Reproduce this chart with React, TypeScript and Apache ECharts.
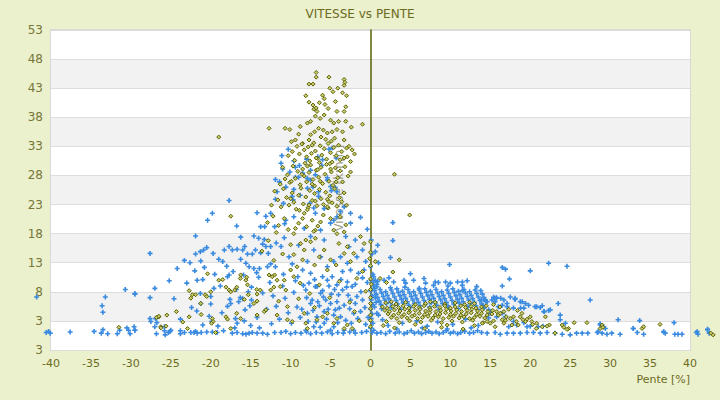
import React, { useEffect, useRef } from "react";
import * as echarts from "echarts";

const yTickLabels = ["3", "3", "8", "13", "18", "23", "28", "33", "38", "43", "48", "53"];
const yAxisTitle = "Vitesse [km/h]";
const yAxisTitleAnchor = [-4, 25.8];

const blueFloor = [
  [-40.6,1.0],[-40.3,1.2],[-40.1,0.9],[-37.6,1.1],[-34.6,1.2],[-33.7,0.9],[-33.5,1.5],[-32.9,0.8],[-31.7,0.8],[-30.3,1.4],[-30.1,0.8],[-29.5,1.4],
  [-26.8,0.8],[-25.8,1.3],[-25.7,0.6],[-25.3,1.0],[-25.1,1.2],[-23.8,0.8],[-23.8,1.3],[-23.3,1.0],[-22.5,1.0],[-22.1,1.0],[-21.9,1.2],[-21.7,0.9],
  [-21.2,1.0],[-20.5,1.1],[-19.8,1.1],[-19.2,1.0],[-17.3,0.9],[-16.7,1.0],[-16.0,0.8],[-15.6,0.7],[-15.2,0.9],[-14.8,1.0],[-14.2,0.9],[-13.5,0.9],
  [-12.9,0.7],[-12.0,1.0],[-11.2,1.0],[-10.6,1.2],[-10.0,0.8],[-9.4,1.0],[-8.7,0.9],[-8.0,1.1],[-7.5,0.8],[-6.8,1.0],[-6.1,0.9],[-5.4,1.1],
  [-4.8,0.8],[-4.1,1.0],[-3.4,0.9],[-2.6,1.1],[-1.9,0.9],[-1.1,1.0],[-0.5,1.2],[0.4,1.4],[0.8,0.9],
  [1.3,1.0],[1.9,0.8],[2.4,1.2],[3.1,0.9],[3.6,1.1],[4.2,0.8],[4.6,1.0],[5.1,1.3],[5.5,0.9],[6.0,1.1],[6.4,0.8],[6.9,1.0],[7.3,1.2],[7.7,0.9],
  [8.2,1.1],[8.6,0.8],[9.1,1.0],[9.5,1.3],[10.0,0.9],[10.4,1.1],[10.9,0.8],[11.3,1.0],[11.8,1.2],[12.4,0.9],[12.9,1.0],[13.4,1.3],
  [13.9,1.0],[14.6,0.9],[15.6,1.0],[16.25,0.7],[17.1,0.9],[17.9,0.9],[18.75,0.9],[19.6,1.0],[20.4,1.0],[21.25,0.9],[22.1,1.0],[23.1,0.9],
  [24.0,0.7],[25.0,0.6],[25.8,0.9],[26.5,0.9],[27.2,0.9],[28.4,1.0],[29.0,0.9],[29.6,0.7],[30.2,0.9],[31.25,0.7],[32.9,1.7],[33.4,1.0],
  [34.2,0.7],[36.7,1.1],[36.9,0.9],[38.1,0.7],[38.5,0.7],[39.0,0.7],[40.8,1.0],[41.0,0.7],[42.2,1.5],[42.4,0.9]
];

const blueLeft = [
  [-17.7,23.7],[-19.8,21.5],[-20.4,20.3],[-21.9,17.6],[-27.6,14.6],[-23.3,13.4],[-24.2,12.0],[-22.6,13.0],[-21.25,13.3],[-21.9,14.5],
  [-21.3,14.9],[-20.9,15.2],[-20.5,15.6],[-19.7,14.6],[-19.0,13.6],[-18.5,13.2],[-18.3,15.2],[-17.7,15.8],[-17.3,15.2],[-16.7,15.3],
  [-16.0,15.2],[-15.75,15.8],[-15.4,14.5],[-16.25,17.4],[-16.75,19.3],[-16.25,13.6],[-15.6,12.9],[-15.2,12.3],[-17.2,11.5],[-17.7,10.9],
  [-17.9,10.6],[-21.7,10.0],[-21.0,10.1],[-27.0,8.6],[-29.5,7.6],[-27.6,7.0],[-21.3,7.7],[-20.0,7.2],[-19.6,8.6],[-17.6,6.7],[-16.3,7.0],
  [-16.0,6.8],[-21.25,6.0],[-20.0,5.9],[-21.75,4.7],[-17.9,5.5],[-17.5,6.0],[-15.1,5.6],[-20.2,3.8],[-19.9,2.9],[-16.9,3.4],[-16.7,2.6],
  [-19.1,2.1],[-18.4,1.3],[-26.9,3.4],[-26.75,2.7],[-29.5,1.4],[-41.8,7.1],[-30.7,8.4],[-29.5,7.7],[-33.2,7.1],[-33.6,5.6],[-33.5,4.5],
  [-27.6,3.4],[-27.5,2.9],[-27.0,2.0],[-25.8,2.0],[-25.0,1.4],[-29.6,2.0],[-30.5,1.8],[-31.4,1.4],
  [-23.0,9.5],[-22.0,11.6],[-20.8,12.2],[-19.5,11.0],[-18.8,9.0],[-18.0,12.4],[-16.8,8.4],[-15.9,10.9],[-15.3,8.0],[-22.4,5.3],[-21.0,2.3],
  [-18.6,4.4],[-17.0,1.8],[-15.8,3.0],[-14.9,6.6],[-24.6,6.8],[-23.8,3.3],[-25.2,9.9]
];

const blueCenter = [
  [-7.5,11.2],[-6.9,8.9],[-6.25,7.75],[-5.4,10.0],[-4.8,10.6],[-4.2,9.2],[-3.5,8.3],[-2.9,9.7],[-2.3,8.9],[-1.5,11.2],[-0.8,11.75],[-8.1,8.3],
  [-7.3,6.6],[-5.6,6.6],[-5.0,6.0],[-4.2,6.3],[-3.3,5.7],[-2.5,6.6],[-1.9,6.0],[-1.0,6.6],[-1.25,4.6],[-2.1,4.3],[-3.75,3.7],[-4.6,4.0],
  [-5.8,4.6],[-6.7,3.7],[-7.9,4.3],[-8.1,1.4],[-7.1,2.0],[-5.8,2.6],[-5.0,1.4],[-4.6,2.0],[-3.3,1.4],[-2.1,1.4],[-6.7,8.9],[-7.5,6.0],
  [-2.5,11.75],[-3.5,11.5],[-6.0,10.6],[-8.5,11.75],
  [-12.6,9.6],[-12.2,7.3],[-11.8,5.5],[-11.4,3.3],[-11.0,9.0],[-10.7,6.9],[-10.3,4.4],[-9.9,2.6],[-9.6,7.9],[-9.2,5.4],[-8.8,3.6],[-13.0,5.0],
  [-12.4,2.5],[-10.9,11.0],[-9.4,9.9],[-13.5,7.8],[-14.2,3.6],[-14.9,8.8],[-15.7,4.9],[-14.0,10.5],[-16.5,6.3],[-15.0,2.2],[-13.9,1.8],
  [-8.6,5.0],[-8.0,7.0],[-7.7,9.5],[-7.2,4.8],[-6.8,2.8],[-6.4,5.6],[-6.0,8.2],[-5.5,3.3],[-5.2,9.0],[-4.9,7.6],[-4.4,4.9],[-4.0,7.5],
  [-3.7,10.1],[-3.1,3.1],[-2.8,7.4],[-2.4,2.6],[-1.9,9.3],[-1.6,3.4],[-1.2,8.0],[-0.7,5.3],[-0.6,2.4],[-0.4,9.6],[-3.9,5.2],[-5.9,7.1],
  [-7.0,10.1],[-8.4,9.1],[-1.0,10.4],[-2.6,5.1],[-4.5,8.4],[-6.3,1.9],[-3.0,8.8],[-1.7,7.2],[-5.3,5.0],[-7.8,2.9],[-9.1,10.6],[-0.3,3.6],
  [-6.6,6.3],[-4.1,2.7]
];

const blueUpper = [
  [-7.1,15.2],[-7.9,13.2],[-6.25,14.0],[-5.4,12.3],[-4.6,13.2],[-3.75,14.0],[-1.7,14.0],[-2.7,15.75],[-1.9,16.9],[-3.1,17.5],[-1.0,15.2],
  [-0.6,13.2],[-2.9,12.9],[-0.4,18.75],[-1.25,20.8],[-2.5,19.8],[-5.8,16.9],[-6.25,18.6],[-5.0,19.8],[-4.2,20.9],[-3.3,22.6],[-2.5,21.5],
  [-3.75,21.8],[-4.6,20.3],[-6.9,21.5],[-8.3,18.9],[-7.5,17.5],[-14.6,17.6],[-14.0,17.2],[-13.3,17.0],[-13.5,16.2],[-13.1,15.8],[-12.5,15.8],
  [-11.8,16.4],[-11.2,15.8],[-14.8,14.5],[-14.4,15.2],[-13.75,14.7],[-12.8,14.6],[-14.6,12.0],[-14.25,11.3],[-13.9,12.0],[-12.9,12.3],
  [-12.5,12.8],[-11.9,12.3],[-14.2,21.6],[-13.1,21.0],[-12.5,21.5],[-13.75,19.2],[-13.25,19.2],[-12.0,19.2],[-10.75,19.7],[-10.6,20.3],
  [-9.6,20.9],[-10.2,14.0],[-9.8,12.8],[-10.8,17.3],[-9.0,16.0],
  [-7.9,25.8],[-8.5,28.4],[-7.5,27.2],[-6.5,24.4],[-8.0,30.8],[-8.9,29.7],[-9.4,27.7],[-9.6,25.6],[-7.2,26.0],[-6.1,29.7],[-5.4,27.6],
  [-4.9,25.4],[-6.6,31.2],[-9.7,23.8],[-8.8,24.6],[-7.6,23.2],[-5.8,22.3],[-4.4,25.9],[-10.1,28.6],[-4.3,31.0],[-5.2,32.5],
  [-10.3,32.5],[-11.1,31.4],[-11.2,30.1],[-11.0,29.1],[-11.9,27.3],[-11.4,26.9],[-10.6,26.0],[-11.7,25.2],[-11.9,23.9],[-10.9,23.2],
  [-9.6,30.5],[-9.4,29.4],[-9.0,27.7],[-9.8,24.4],[-7.9,27.5],[-7.5,28.9],[-6.9,28.1],[-6.5,25.2],[-6.0,30.7],[-4.8,32.7],[-5.4,27.2],
  [-5.0,26.1],[-4.2,25.2],[-7.1,22.4]
];

const blueAxis = [
  [0.1,16.9],[0.2,14.5],[0.0,12.3],[0.3,11.0],[0.1,10.0],[0.4,9.0],[0.0,8.2],[0.2,7.3],[0.1,6.6],[0.3,5.8],[0.0,5.0],[0.2,4.2],[0.1,3.4],
  [0.3,2.6],[0.0,1.8],[0.2,1.0],[0.5,8.6],[0.6,7.0],[0.7,6.2],[0.5,5.4],[0.8,4.3],[0.9,16.0],[0.6,14.9],[1.0,13.0],[0.4,10.6],[0.9,9.8]
];

const blueBlob = [
  [0.8,8.9],[2.5,8.7],[4.3,8.8],[6.1,8.6],[7.9,9.1],[9.7,9.0],[11.5,9.1],[13.3,8.9],
  [0.5,8.2],[1.2,8.4],[1.9,8.0],[2.6,8.3],[3.3,8.5],[4.0,8.1],[4.7,8.4],[5.4,8.0],[6.1,8.3],[6.8,8.5],[7.5,8.1],[8.2,8.4],[8.9,8.0],
  [9.6,8.3],[10.3,8.5],[11.0,8.1],[11.7,8.4],[12.4,8.0],[13.1,8.3],[13.8,8.2],
  [0.7,7.6],[1.4,7.8],[2.1,7.4],[2.8,7.7],[3.5,7.9],[4.2,7.5],[4.9,7.8],[5.6,7.4],[6.3,7.7],[7.0,7.9],[7.7,7.5],[8.4,7.8],[9.1,7.4],
  [9.8,7.7],[10.5,7.9],[11.2,7.5],[11.9,7.8],[12.6,7.4],[13.3,7.7],[14.0,7.6],
  [0.9,7.0],[1.6,7.2],[2.3,6.8],[3.0,7.1],[3.7,7.3],[4.4,6.9],[5.1,7.2],[5.8,6.8],[6.5,7.1],[7.2,7.3],[7.9,6.9],[8.6,7.2],[9.3,6.8],
  [10.0,7.1],[10.7,7.3],[11.4,6.9],[12.1,7.2],[12.8,6.8],[13.5,7.1],[14.2,7.0],
  [1.1,6.4],[1.8,6.6],[2.5,6.2],[3.2,6.5],[3.9,6.7],[4.6,6.3],[5.3,6.6],[6.0,6.2],[6.7,6.5],[7.4,6.7],[8.1,6.3],[8.8,6.6],[9.5,6.2],
  [10.2,6.5],[10.9,6.7],[11.6,6.3],[12.3,6.6],[13.0,6.2],[13.7,6.5],[14.4,6.4],
  [1.3,5.8],[2.0,6.0],[2.7,5.6],[3.4,5.9],[4.1,6.1],[4.8,5.7],[5.5,6.0],[6.2,5.6],[6.9,5.9],[7.6,6.1],[8.3,5.7],[9.0,6.0],[9.7,5.6],
  [10.4,5.9],[11.1,6.1],[11.8,5.7],[12.5,6.0],[13.2,5.6],[13.9,5.9],
  [1.4,5.1],[2.6,5.3],[3.8,5.0],[5.0,5.3],[6.2,5.1],[7.4,5.4],[8.6,5.0],[9.8,5.3],[11.0,5.1],[12.2,5.4],[13.4,5.0]
];

const blueRight = [
  [1.7,10.0],[2.3,10.4],[2.9,9.7],[4.2,10.0],[4.4,9.5],[5.0,11.1],[5.4,10.0],[6.7,10.3],[6.9,9.5],[8.1,9.7],[8.5,9.6],[9.4,9.7],[10.0,9.5],
  [10.9,9.7],[11.5,9.7],[12.1,9.9],[11.5,8.2],[0.8,9.3],[0.6,10.0],[0.4,9.7],[2.5,13.9],[2.8,19.9],[2.8,16.8],[9.9,12.7],
  [16.5,12.2],[16.9,11.9],[17.4,10.2],[16.5,9.0],[20.0,11.6],[22.3,12.9],[24.6,12.4],[27.5,6.6],[23.5,6.0],[23.75,4.0],[24.4,2.6],
  [29.2,2.0],[28.75,2.5],[21.75,4.6],[22.5,4.9],[20.8,5.45],[21.25,5.3],[21.5,5.6],[19.0,6.3],[19.4,6.0],[18.8,5.2],[18.1,6.7],[17.5,7.1],
  [16.7,6.6],[17.1,6.0],[16.3,6.9],[15.75,7.0],[15.5,6.9],[16.0,5.45],[16.5,4.3],[16.9,3.7],[17.9,2.9],[17.3,2.0],[18.3,2.3],[19.2,2.7],
  [19.6,2.0],[20.0,2.1],[21.0,2.0],[21.6,2.1],[14.4,6.6],[14.6,6.3],[13.9,6.6],[14.2,5.2],[14.8,4.9],[15.0,4.3],[15.8,3.7],
  [15.4,7.05],[15.8,6.9],[15.2,6.6],[15.6,6.3],[14.1,5.7],[14.1,5.2],[16.5,5.7],[17.1,5.45],[17.9,5.2],[18.1,6.9],[18.75,6.3],[19.2,5.2],
  [19.8,5.7],[20.6,5.45],[21.7,4.6],[22.3,4.8],[23.75,3.2],[31.0,3.2],[28.75,2.3],[28.5,1.15],[29.4,1.7],[32.9,1.7],[33.7,3.05],[38.0,2.7],
  [36.7,1.15],[40.9,1.15],[42.2,1.55],
  [1.5,3.2],[2.2,2.2],[4.0,2.6],[5.8,3.0],[7.1,2.1],[8.4,2.8],[10.3,2.4],[11.9,3.3],[13.5,2.2],[1.0,4.0],[14.8,3.5],[3.3,1.6],[6.5,1.8],
  [9.6,1.6],[12.6,1.8]
];

const oliveColumn = [
  [-6.8,45.7],[-5.2,44.9],[-6.8,44.9],[-7.7,43.7],[-7.2,43.7],[-5.1,43.0],[-4.1,43.0],[-4.7,42.4],[-3.3,44.5],[-3.2,44.0],[-3.3,43.5],
  [-3.5,42.2],[-3.0,41.7],[-8.1,41.7],[-6.0,41.8],[-5.8,41.2],[-5.7,40.2],[-7.7,40.6],[-7.2,40.1],[-7.1,39.4],[-6.8,39.6],[-6.7,39.0],
  [-4.2,39.0],[-3.3,39.0],[-3.1,39.8],[-1.0,36.8],[-12.7,36.1],[-19.0,34.6],[-10.7,36.1],[-10.1,35.9],[-9.0,35.1],[-7.9,37.0],[-7.5,37.3],
  [-6.9,38.2],[-6.3,37.8],[-5.8,38.4],[-5.0,37.5],[-4.6,37.0],[-4.0,37.3],[-3.1,37.3],[-9.4,34.1],[-8.5,33.5],[-7.7,34.1],[-7.5,35.0],
  [-7.0,35.5],[-6.5,36.1],[-5.9,35.8],[-5.4,35.3],[-4.8,35.5],[-4.2,35.9],[-3.5,35.5],[-3.3,34.1],[-6.2,34.6],[-5.6,34.2],[-4.5,34.4],
  [-8.8,36.4],[-2.4,36.3],[-6.4,40.5],[-4.4,40.7],[-5.3,39.5],
  [-9.2,33.0],[-8.3,32.4],[-8.0,31.2],[-2.7,33.0],[-2.3,32.4],[-2.9,31.2],[-2.5,30.4],[-9.8,32.1],[-9.5,30.6],[-8.9,31.7],[-8.6,33.4],
  [-7.8,32.9],[-7.4,31.8],[-7.1,33.6],[-6.9,32.2],[-6.6,30.9],[-6.3,33.1],[-6.1,31.5],[-5.8,32.6],[-5.5,30.8],[-5.3,33.5],[-5.0,31.9],
  [-4.8,30.3],[-4.6,32.8],[-4.3,31.4],[-4.0,33.2],[-3.8,30.7],[-3.6,32.1],[-3.3,31.0],[-3.0,32.7],[-7.6,30.5],[-8.2,30.1],[-6.4,30.2],
  [-5.1,30.0],[-9.9,33.8],[-10.3,31.4],[-2.0,31.7],[-4.9,33.9],[-6.8,31.0],[-7.3,33.2],
  [-11.0,29.4],[-10.4,28.1],[-10.1,26.8],[-9.7,29.6],[-9.4,27.5],[-9.1,28.7],[-8.8,26.4],[-8.5,29.1],[-8.3,27.9],[-8.0,26.9],[-7.7,28.5],
  [-7.5,29.8],[-7.2,27.3],[-7.0,26.2],[-6.8,28.9],[-6.5,27.7],[-6.2,29.4],[-6.0,26.6],[-5.7,28.2],[-5.5,29.9],[-5.2,27.0],[-4.9,28.6],
  [-4.7,26.3],[-4.4,29.3],[-4.1,27.6],[-3.8,28.8],[-3.5,26.9],[-3.2,29.5],[-2.8,27.9],[-2.5,28.6],[-9.9,27.0],[-8.6,28.2],[-7.3,26.5],
  [-6.3,27.0],[-5.0,29.1],[-4.3,26.9],[-10.7,27.4],[-11.3,26.5],[-7.9,29.6],[-6.6,29.0],
  [-12.0,25.3],[-11.6,23.8],[-11.2,22.6],[-10.9,25.7],[-10.5,24.2],[-10.2,22.9],[-9.8,25.0],[-9.6,23.4],[-9.3,22.2],[-9.0,24.6],[-8.7,25.8],
  [-8.4,23.1],[-8.1,24.3],[-7.8,22.5],[-7.6,25.4],[-7.3,23.7],[-7.0,24.9],[-6.7,22.8],[-6.4,25.6],[-6.2,24.0],[-5.9,23.0],[-5.6,25.1],
  [-5.3,22.4],[-5.1,24.5],[-4.8,23.3],[-4.5,25.7],[-4.2,22.7],[-3.9,24.2],[-3.6,23.5],[-3.3,25.0],[-8.9,22.0],[-6.9,23.6],[-5.4,23.9],
  [-10.0,24.0],[-12.4,22.9],[-3.0,22.9],
  [-17.5,21.0],[-9.6,18.0],[-9.4,18.9],[-9.0,19.8],[-8.5,20.6],[-8.3,21.5],[-7.9,22.1],[-7.7,22.9],[-7.3,20.3],[-6.9,18.6],[-6.25,20.0],
  [-5.9,21.2],[-5.4,22.6],[-5.2,23.5],[-5.0,20.6],[-4.6,18.6],[-4.2,18.0],[-3.3,18.3],[-5.8,15.2],[-12.2,21.0],[-11.5,19.4],[-10.8,20.6],
  [-10.3,18.7],[-11.8,18.2],[-6.6,19.3],[-3.8,20.9],[-3.1,19.5],[-7.1,18.4],[-8.0,19.2],[-12.9,19.9],
  [-8.75,16.3],[-8.1,16.9],[-7.5,16.6],[-6.9,17.2],[-3.96,16.3],[-3.3,14.6],[-2.9,15.75],[-2.5,13.2],[-2.1,14.6],[-1.25,17.5],[-0.8,16.3],
  [-1.0,11.5],[-5.0,13.5],[-5.4,11.75],[-9.2,12.3],[-8.5,13.5],[-8.3,15.2],[-11.0,14.5],[-12.1,13.4],[-10.0,16.1],[-13.6,15.0],[-6.4,14.0],
  [-7.0,12.6],[-4.3,12.6],[-9.6,14.4],[-12.8,16.8]
];

const oliveLow = [
  [-20.4,11.1],[-19.0,10.0],[-18.5,10.1],[-22.7,8.2],[-22.5,6.9],[-20.7,7.5],[-20.5,7.2],[-18.1,8.8],[-17.7,8.3],[-17.5,8.0],[-16.25,10.9],
  [-16.3,10.3],[-15.6,10.0],[-15.5,10.5],[-17.0,8.3],[-16.75,8.8],[-15.4,9.2],[-15.3,7.5],[-14.2,7.6],[-13.8,8.3],[-14.25,8.4],[-15.8,6.7],
  [-14.2,6.4],[-14.6,6.0],[-13.3,4.6],[-13.1,4.9],[-21.25,6.0],[-14.2,4.0],[-19.8,3.4],[-19.7,2.9],[-19.9,2.6],[-18.1,3.7],[-17.9,3.3],
  [-16.75,4.3],[-16.25,3.4],[-17.5,1.7],[-19.4,1.0],[-22.9,1.7],[-22.7,3.7],[-26.25,2.0],[-25.6,2.1],[-26.5,3.7],[-11.7,10.0],[-11.3,8.9],
  [-10.6,8.3],[-12.1,8.8],[-12.5,8.3],[-12.7,10.9],[-12.3,10.6],[-12.0,10.9],[-10.8,10.0],[-10.0,11.75],[-9.6,10.6],[-10.4,5.45],[-10.4,3.2],
  [-11.7,4.0],[-8.3,4.3],[-7.9,1.7],[-8.1,2.6],[-6.7,3.2],[-6.0,3.7],[-5.4,4.3],[-4.6,2.6],[-4.2,3.4],[-2.9,2.3],[-3.3,1.7],[-2.3,1.7],
  [-31.5,1.9],[-26.8,3.6],[-26.5,3.8],[-25.5,4.0],[-26.25,1.8],[-22.3,7.5],[-21.9,7.5],[-20.0,8.0],[-24.3,4.6],[-23.5,2.8],[-21.2,4.1],
  [-9.0,6.8],[-7.6,7.7],[-6.4,9.2],[-5.1,7.0],[-3.9,9.8],[-2.6,6.2],[-8.8,9.5],[-11.5,6.4],[-9.8,2.9],[-7.0,5.3],[-2.0,4.6],[-1.4,3.0],
  [-0.6,8.1],[-1.7,10.3],
  [0.0,2.0],[0.0,3.1],[0.0,4.0],[0.0,5.1],[0.0,6.0],[0.0,7.0],[0.0,8.4],[0.0,10.2],[0.0,12.5],[0.0,14.8],[0.0,16.6],[0.1,9.3],[-0.1,13.7]
];

const oliveBand = [
  [1.9,6.1],[3.2,5.9],[4.4,6.2],[5.6,5.8],[6.9,6.0],[8.1,6.2],[9.3,5.9],[10.6,6.1],[11.8,5.8],[13.0,6.0],[2.6,6.3],[7.5,6.3],[12.4,6.2],
  [1.5,5.4],[2.1,5.2],[2.8,5.5],[3.5,5.3],[4.1,5.6],[4.8,5.2],[5.4,5.5],[6.1,5.3],[6.7,5.6],[7.4,5.2],[8.0,5.5],[8.7,5.3],[9.3,5.6],
  [10.0,5.2],[10.6,5.4],[11.3,5.6],[11.9,5.3],[12.6,5.5],[13.2,5.2],[13.9,5.4],[14.5,5.6],
  [1.8,4.8],[2.4,4.6],[3.0,4.9],[3.7,4.7],[4.3,5.0],[4.9,4.6],[5.6,4.8],[6.2,5.0],[6.9,4.7],[7.5,4.9],[8.2,4.6],[8.8,4.8],[9.5,5.0],
  [10.1,4.7],[10.8,4.9],[11.4,4.6],[12.1,4.8],[12.7,5.0],[13.4,4.7],[14.0,4.9],[14.7,4.6],[15.3,4.8],
  [2.2,4.2],[2.9,4.0],[3.5,4.3],[4.2,4.1],[4.8,4.4],[5.5,4.0],[6.1,4.3],[6.8,4.1],[7.4,4.4],[8.1,4.0],[8.7,4.2],[9.4,4.4],[10.0,4.1],
  [10.7,4.3],[11.3,4.0],[12.0,4.2],[12.6,4.4],[13.3,4.1],[13.9,4.3],[14.6,4.0],[15.2,4.2],
  [2.6,3.6],[3.3,3.4],[3.9,3.7],[4.6,3.5],[5.2,3.8],[5.9,3.4],[6.5,3.6],[7.2,3.8],[7.8,3.5],[8.5,3.7],[9.1,3.4],[9.8,3.6],[10.4,3.8],
  [11.1,3.5],[11.7,3.7],[12.4,3.4],[13.0,3.6],[13.7,3.8],[14.3,3.5],
  [2.0,2.9],[3.6,2.7],[4.9,3.0],[6.3,2.8],[7.6,3.1],[8.9,2.7],[10.2,3.0],[11.5,2.8],[12.8,3.1],[14.1,2.7],[15.4,3.0],[5.6,2.4],[9.6,2.3],
  [3.0,1.8],[6.8,1.7],[8.9,1.9],[11.6,1.6],[13.0,2.2],[1.6,2.2]
];

const oliveRight = [
  [15.8,4.6],[16.0,4.0],[16.5,3.2],[16.7,2.6],[16.9,3.1],[17.5,3.4],[17.7,2.3],[18.5,2.3],[18.75,3.7],[18.96,4.3],[19.1,3.2],[19.4,2.9],
  [20.0,3.7],[20.2,2.9],[20.3,2.4],[20.8,2.6],[21.9,3.7],[22.4,2.3],[23.1,0.9],[24.0,2.3],[24.2,1.9],[24.8,1.7],[25.5,2.7],[27.1,2.7],
  [28.75,1.7],[29.0,2.3],[16.25,4.3],[16.7,4.6],[17.0,3.7],[17.9,3.7],[18.25,2.9],[19.6,3.3],[20.75,1.7],[21.5,2.0],[22.1,2.1],[24.6,1.55],
  [29.1,1.9],[34.0,1.7],[34.2,2.0],[36.25,2.4],[42.9,0.6],[42.6,0.9],[14.0,2.6],[14.6,2.9],[15.0,2.6],[15.6,2.0],[16.2,5.4],[17.3,5.0],
  [18.4,4.8],[15.4,5.8],
  [3.0,28.2],[4.9,21.2],[3.6,13.5],[2.8,11.4],[0.6,13.2],[1.2,10.3],[2.0,9.6]
];

const blueData = [...blueFloor, ...blueLeft, ...blueCenter, ...blueUpper, ...blueAxis, ...blueBlob, ...blueRight];
const oliveData = [...oliveColumn, ...oliveLow, ...oliveBand, ...oliveRight];

const PLUS = "path://M1.7,0H3.3V1.7H5V3.3H3.3V5H1.7V3.3H0V1.7H1.7Z";

export default function App() {
  const ref = useRef<HTMLDivElement>(null);
  useEffect(() => {
    document.body.style.margin = "0";
    const chart = echarts.init(ref.current as HTMLDivElement, null, { renderer: "svg" });
    const olive = "#6b6b1e";
    chart.setOption({
      animation: false,
      backgroundColor: "#ebf0cd",
      textStyle: { fontFamily: "DejaVu Sans" },
      title: {
        text: "VITESSE vs PENTE",
        left: "center",
        top: 3,
        textStyle: { color: olive, fontSize: 12, fontWeight: "normal", fontFamily: "DejaVu Sans" },
      },
      grid: {
        left: 51,
        right: 30,
        top: 30,
        bottom: 50,
        show: true,
        backgroundColor: "#ffffff",
        borderColor: "#d9d9d9",
        borderWidth: 2,
      },
      xAxis: {
        type: "value",
        min: -40,
        max: 40,
        interval: 5,
        axisLine: { show: false, onZero: false },
        axisTick: { show: false },
        splitLine: { show: false },
        axisLabel: { color: olive, fontSize: 11, margin: 8, fontFamily: "DejaVu Sans" },
        name: "Pente [%]",
        nameLocation: "end",
        nameGap: 0,
        nameTextStyle: {
          color: olive,
          fontSize: 11,
          fontFamily: "DejaVu Sans",
          align: "right",
          verticalAlign: "top",
          padding: [24, 0, 0, 0],
        },
      },
      yAxis: {
        type: "value",
        min: -2,
        max: 53,
        interval: 5,
        axisLine: { show: true, onZero: true, lineStyle: { color: "#5a6000", width: 1.5 } },
        axisTick: { show: false },
        splitLine: { show: true, lineStyle: { color: "#dddddd", width: 1 } },
        splitArea: { show: true, areaStyle: { color: ["#ffffff", "#f2f2f2"] } },
        axisLabel: {
          color: "#77773a",
          fontSize: 12,
          margin: 8,
          fontFamily: "DejaVu Sans",
          formatter: (v: number) => yTickLabels[Math.round((v + 2) / 5)] ?? "",
        },
      },
      series: [
        {
          type: "scatter",
          z: 3,
          silent: true,
          data: [yAxisTitleAnchor],
          symbol: "circle",
          symbolSize: 1,
          itemStyle: { color: "rgba(0,0,0,0)" },
          label: {
            show: true,
            position: "inside",
            rotate: 90,
            opacity: 1,
            formatter: yAxisTitle,
            color: "rgba(115,115,80,0.7)",
            fontSize: 12,
            fontFamily: "DejaVu Sans",
          },
        },
        {
          type: "scatter",
          z: 5,
          data: blueData,
          symbol: PLUS,
          symbolSize: 5,
          clip: false,
          itemStyle: { color: "#3a8be0", opacity: 1 },
        },
        {
          type: "scatter",
          z: 6,
          data: oliveData,
          symbol: "diamond",
          symbolSize: 4,
          clip: false,
          itemStyle: { color: "#c9cd70", borderColor: "#5b6000", borderWidth: 1, opacity: 1 },
        },
      ],
    });
    return () => chart.dispose();
  }, []);
  return <div ref={ref} style={{ width: 720, height: 400 }} />;
}
